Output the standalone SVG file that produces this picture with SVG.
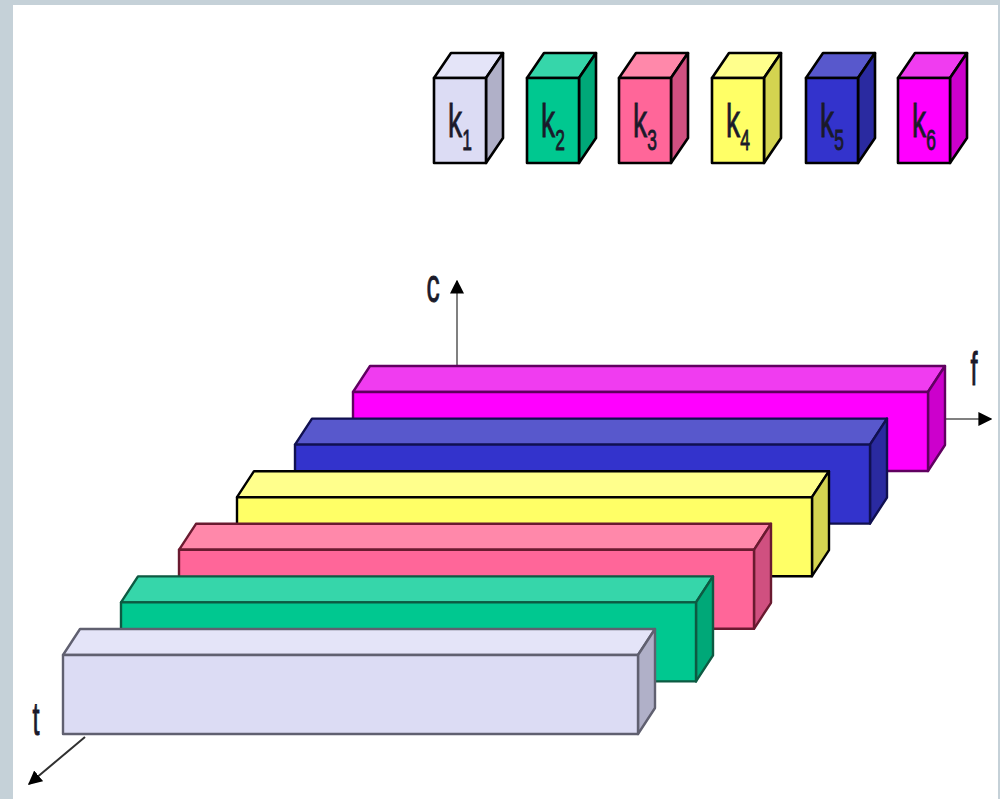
<svg xmlns="http://www.w3.org/2000/svg" width="1000" height="799" viewBox="0 0 1000 799">
<defs>
<style>
.lbl{font-family:"Liberation Sans",Arial,sans-serif;fill:#1a1a2a;stroke:#1a1a2a;stroke-width:0.9}
.ax{stroke:#808080;stroke-width:2;fill:none}
.cube{stroke:#000;stroke-width:2.6;stroke-linejoin:round}
.bar{stroke-width:2.4;stroke-linejoin:round}
.c1 .f{fill:#dcdcf4}.c1 .t{fill:#e4e4f8}.c1 .s{fill:#b0b0c8}.c1 .bar{stroke:#606070}
.c2 .f{fill:#00c890}.c2 .t{fill:#36d6aa}.c2 .s{fill:#00a878}.c2 .bar{stroke:#0d5a42}
.c3 .f{fill:#ff6699}.c3 .t{fill:#ff88aa}.c3 .s{fill:#d05080}.c3 .bar{stroke:#6a1a30}
.c4 .f{fill:#ffff66}.c4 .t{fill:#ffff8c}.c4 .s{fill:#d4d450}.c4 .bar{stroke:#000}
.c5 .f{fill:#3333cc}.c5 .t{fill:#5858cc}.c5 .s{fill:#2a2aa0}.c5 .bar{stroke:#101050}
.c6 .f{fill:#ff00ff}.c6 .t{fill:#f03cf0}.c6 .s{fill:#cc00cc}.c6 .bar{stroke:#600060}
</style>
<marker id="ah" viewBox="0 0 10 10" refX="9" refY="5" markerWidth="7" markerHeight="7" orient="auto" markerUnits="strokeWidth">
<path d="M0,0 L10,5 L0,10 z" fill="#000"/>
</marker>
</defs>
<rect x="0" y="0" width="1000" height="799" fill="#c5d1d8"/>
<rect x="13" y="5" width="985" height="794" fill="#ffffff"/>

<g id="connectors">
<line class="ax" x1="457" y1="366" x2="457" y2="281" marker-end="url(#ah)"/>
<line class="ax" x1="945" y1="419" x2="991" y2="419" marker-end="url(#ah)"/>
<line x1="85" y1="737" x2="29" y2="784" stroke="#303030" stroke-width="2" marker-end="url(#ah)"/>
</g>

<g id="bar-k6" class="c6">
<polygon class="bar t" points="353,392 370,366 945,366 928,392"/>
<polygon class="bar s" points="928,392 945,366 945,445 928,471"/>
<rect class="bar f" x="353" y="392" width="575" height="79"/>
</g>
<g id="bar-k5" class="c5">
<polygon class="bar t" points="295,444.6 312,418.6 887,418.6 870,444.6"/>
<polygon class="bar s" points="870,444.6 887,418.6 887,497.6 870,523.6"/>
<rect class="bar f" x="295" y="444.6" width="575" height="79"/>
</g>
<g id="bar-k4" class="c4">
<polygon class="bar t" points="237,497.2 254,471.2 829,471.2 812,497.2"/>
<polygon class="bar s" points="812,497.2 829,471.2 829,550.2 812,576.2"/>
<rect class="bar f" x="237" y="497.2" width="575" height="79"/>
</g>
<g id="bar-k3" class="c3">
<polygon class="bar t" points="179,549.8 196,523.8 771,523.8 754,549.8"/>
<polygon class="bar s" points="754,549.8 771,523.8 771,602.8 754,628.8"/>
<rect class="bar f" x="179" y="549.8" width="575" height="79"/>
</g>
<g id="bar-k2" class="c2">
<polygon class="bar t" points="121,602.4 138,576.4 713,576.4 696,602.4"/>
<polygon class="bar s" points="696,602.4 713,576.4 713,655.4 696,681.4"/>
<rect class="bar f" x="121" y="602.4" width="575" height="79"/>
</g>
<g id="bar-k1" class="c1">
<polygon class="bar t" points="63,655 80,629 655,629 638,655"/>
<polygon class="bar s" points="638,655 655,629 655,708 638,734"/>
<rect class="bar f" x="63" y="655" width="575" height="79"/>
</g>

<g id="legend-k1" class="c1">
<polygon class="cube t" points="434,78 451,53 503,53 486,78"/>
<polygon class="cube s" points="486,78 503,53 503,138 486,163"/>
<rect class="cube f" x="434" y="78" width="52" height="85"/>
<g transform="translate(460,137) scale(0.6,1)"><text class="lbl" x="0" y="0" font-size="47" text-anchor="middle">k<tspan font-size="29" dy="13">1</tspan></text></g>
</g>
<g id="legend-k2" class="c2">
<polygon class="cube t" points="527,78 544,53 596,53 579,78"/>
<polygon class="cube s" points="579,78 596,53 596,138 579,163"/>
<rect class="cube f" x="527" y="78" width="52" height="85"/>
<g transform="translate(553,137) scale(0.6,1)"><text class="lbl" x="0" y="0" font-size="47" text-anchor="middle">k<tspan font-size="29" dy="13">2</tspan></text></g>
</g>
<g id="legend-k3" class="c3">
<polygon class="cube t" points="619,78 636,53 688,53 671,78"/>
<polygon class="cube s" points="671,78 688,53 688,138 671,163"/>
<rect class="cube f" x="619" y="78" width="52" height="85"/>
<g transform="translate(645,137) scale(0.6,1)"><text class="lbl" x="0" y="0" font-size="47" text-anchor="middle">k<tspan font-size="29" dy="13">3</tspan></text></g>
</g>
<g id="legend-k4" class="c4">
<polygon class="cube t" points="712,78 729,53 781,53 764,78"/>
<polygon class="cube s" points="764,78 781,53 781,138 764,163"/>
<rect class="cube f" x="712" y="78" width="52" height="85"/>
<g transform="translate(738,137) scale(0.6,1)"><text class="lbl" x="0" y="0" font-size="47" text-anchor="middle">k<tspan font-size="29" dy="13">4</tspan></text></g>
</g>
<g id="legend-k5" class="c5">
<polygon class="cube t" points="806,78 823,53 875,53 858,78"/>
<polygon class="cube s" points="858,78 875,53 875,138 858,163"/>
<rect class="cube f" x="806" y="78" width="52" height="85"/>
<g transform="translate(832,137) scale(0.6,1)"><text class="lbl" x="0" y="0" font-size="47" text-anchor="middle">k<tspan font-size="29" dy="13">5</tspan></text></g>
</g>
<g id="legend-k6" class="c6">
<polygon class="cube t" points="898,78 915,53 967,53 950,78"/>
<polygon class="cube s" points="950,78 967,53 967,138 950,163"/>
<rect class="cube f" x="898" y="78" width="52" height="85"/>
<g transform="translate(924,137) scale(0.6,1)"><text class="lbl" x="0" y="0" font-size="47" text-anchor="middle">k<tspan font-size="29" dy="13">6</tspan></text></g>
</g>

<g id="axis-labels">
<g transform="translate(433,302) scale(0.55,1)"><text class="lbl" x="0" y="0" font-size="48" text-anchor="middle">c</text></g>
<g transform="translate(974,385) scale(0.55,1)"><text class="lbl" x="0" y="0" font-size="46" text-anchor="middle">f</text></g>
<g transform="translate(36,735) scale(0.55,1)"><text class="lbl" x="0" y="0" font-size="46" text-anchor="middle">t</text></g>
</g>
</svg>
